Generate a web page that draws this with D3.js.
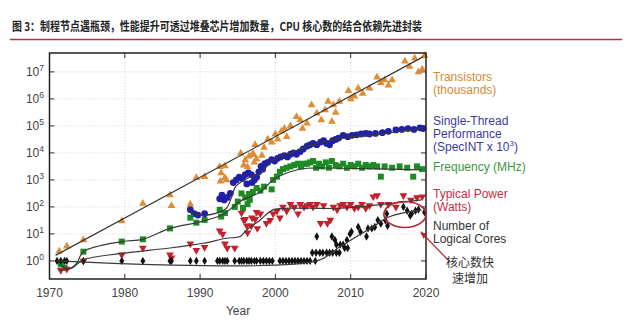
<!DOCTYPE html>
<html>
<head>
<meta charset="utf-8">
<script src="https://cdn.jsdelivr.net/npm/d3@7"></script>
<style>
  html, body { margin: 0; padding: 0; background: #fff; }
  svg { display: block; }
</style>
</head>
<body>
<div id="chart"></div>
<script>
// values (year, value)
const transistors = [[1971.3,2.3],[1972.3,3.5],[1974.5,6],[1979.6,30],[1982.4,134],[1986.0,275],[1986.2,110],[1988.7,125],[1989.5,1200],[1990.6,1300],[1992.6,3100],[1993.3,3300],[1992.8,1800],[1993.3,1200],[1992.7,900],[1993.5,1000],[1995.4,9800],[1996.0,5500],[1996.5,7500],[1997.0,9500],[1995.8,3500],[1996.3,3000],[1997.2,4500],[1997.5,6000],[1997.1,8500],[1997.3,20000],[1998.2,8000],[1998.5,16000],[1999.0,32000],[1999.5,25000],[2000.0,50000],[2000.3,32000],[2000.8,63000],[2001.2,80000],[2001.5,40000],[2002.0,100000],[2002.8,220000],[2003.3,166000],[2003.6,80000],[2004.2,126000],[2004.8,600000],[2005.5,295000],[2006.1,166000],[2006.6,390000],[2007.0,800000],[2007.7,600000],[2007.5,145000],[2008.0,316000],[2008.5,800000],[2009.7,2000000],[2010.0,1000000],[2010.5,1260000],[2011.0,2500000],[2011.6,1600000],[2012.5,2500000],[2013.5,6300000],[2014.0,4000000],[2014.5,5000000],[2015.0,3200000],[2015.5,5000000],[2017.2,25000000],[2017.8,16000000],[2018.5,32000000],[2019.0,10000000],[2019.5,12600000],[2019.8,40000000]];

const performance = [[1988.7,79],[1989.2,56],[1989.7,50],[1990.6,56],[1992.6,200],[1992.9,275],[1993.2,182],[1993.6,224],[1994.0,316],[1994.4,794],[1994.8,1000],[1995.2,1260],[1995.6,1120],[1996.0,1580],[1996.4,1820],[1996.8,1580],[1997.2,1000],[1996.9,794],[1996.2,708],[1997.5,1260],[1997.8,2000],[1998.3,2500],[1998.1,3160],[1998.6,3980],[1999.0,4470],[1999.5,5620],[1999.9,5010],[2000.3,6310],[2000.7,7080],[2001.2,7940],[2001.6,7080],[2002.0,8910],[2002.4,10000],[2002.8,8910],[2003.3,11200],[2003.7,14100],[2004.2,17800],[2004.6,20000],[2005.0,22400],[2005.5,20000],[2006.0,25100],[2006.4,28200],[2006.8,22400],[2007.2,20000],[2007.6,28200],[2008.0,31600],[2008.4,35500],[2009.0,44700],[2009.6,39800],[2010.2,44700],[2010.8,46800],[2011.4,50100],[2012.0,52500],[2012.5,50100],[2013.3,52500],[2014.2,56200],[2015.0,63100],[2016.0,70800],[2016.8,74100],[2017.6,79400],[2018.4,74100],[2019.2,85100],[2019.6,79400]];

const frequency = [[1971.5,0.74],[1972.0,0.56],[1974.5,2.2],[1979.6,5.2],[1982.4,6.3],[1986.0,16],[1988.7,40],[1989.5,26],[1990.6,33],[1992.6,78],[1993.3,59],[1992.8,44],[1994.6,100],[1995.0,158],[1995.5,316],[1996.0,224],[1996.5,302],[1997.0,355],[1997.5,500],[1995.7,91],[1996.3,126],[1996.6,182],[1998.0,400],[1998.5,562],[1999.5,447],[1999.7,1000],[2000.2,1320],[2000.6,2000],[2001.0,2510],[2001.5,2820],[2002.0,3160],[2002.5,3550],[2003.0,3980],[2003.4,3160],[2003.8,3980],[2004.2,3980],[2004.6,4470],[2005.0,5010],[2005.4,2820],[2005.8,3980],[2006.2,3160],[2006.7,4470],[2007.1,2820],[2007.5,5010],[2008.0,3550],[2008.5,3160],[2009.0,3980],[2009.5,2820],[2010.0,3550],[2010.5,3160],[2011.0,3980],[2011.5,2820],[2012.0,3550],[2012.5,3160],[2013.0,3550],[2013.5,3160],[2014.0,1320],[2014.5,3160],[2015.5,2820],[2016.5,3160],[2017.5,2820],[2018.3,1320],[2018.8,3160],[2019.5,2510]];

const power = [[1971.5,0.45],[1972.3,0.5],[1974.5,1],[1979.6,1.7],[1982.4,3],[1986.0,1.7],[1986.2,1.3],[1988.7,4.3],[1989.5,2.5],[1990.6,3.2],[1992.6,13],[1993.0,10],[1993.3,4.3],[1993.6,3],[1994.6,3],[1995.5,60],[1996.0,35],[1996.3,11],[1996.8,20],[1997.3,35],[1997.5,63],[1995.8,33],[1996.2,20],[1996.9,40],[1997.6,16],[1998.0,56],[1998.8,25],[1999.3,32],[1999.7,56],[2000.2,71],[2000.6,40],[2001.0,100],[2001.5,71],[2002.0,126],[2002.5,100],[2003.0,56],[2003.3,126],[2003.8,100],[2004.2,112],[2004.6,126],[2005.0,100],[2005.5,126],[2006.0,25],[2006.4,112],[2006.9,25],[2007.3,33],[2007.7,100],[2008.2,79],[2008.6,112],[2009.0,126],[2009.5,100],[2010.0,126],[2010.5,89],[2011.0,100],[2011.5,126],[2012.0,89],[2012.5,112],[2013.0,240],[2013.5,263],[2014.0,126],[2015.0,126],[2016.0,100],[2017.0,263],[2018.0,182],[2018.8,224],[2019.5,240]];

const cores = [[1971.0,1],[1971.5,1],[1972.0,1],[1972.3,1],[1974.5,1],[1979.6,1],[1982.4,1],[1986.0,1],[1986.2,1],[1988.7,1],[1989.5,1],[1990.6,1],[1992.3,1],[1992.6,1],[1993.0,1],[1993.3,1],[1993.6,1],[1994.6,1],[1995.2,1],[1995.5,1],[1995.8,1],[1996.2,1],[1996.5,1],[1996.8,1],[1997.2,1],[1997.5,1],[1998.0,1],[1998.4,1],[1998.8,1],[1999.2,1],[1999.6,1],[2000.6,1],[2001.0,1],[2001.4,1],[2001.8,1],[2002.2,1],[2002.6,1],[2003.0,1],[2003.4,1],[2003.8,1],[2004.2,1],[2004.6,1],[2005.3,1],[2004.9,2],[2005.4,2],[2005.9,2],[2006.3,2],[2006.8,2],[2007.2,2],[2007.6,2],[2008.1,2],[2008.5,2],[2005.5,8],[2007.5,8],[2007.9,6],[2008.1,4],[2008.6,4],[2009.0,4],[2009.2,3],[2009.5,6],[2009.6,3],[2009.9,10],[2010.1,12],[2011.0,18],[2011.3,12],[2012.1,8],[2012.3,16],[2012.8,16],[2013.2,18],[2013.6,32],[2014.0,24],[2014.6,32],[2014.8,56],[2014.9,20],[2017.0,100],[2017.5,72],[2017.9,48],[2018.1,56],[2018.6,72],[2019.0,80],[2019.8,64]];

// hand drawn trend curves
const transistorTrend = [[1970.8,1.6],[2019.6,36000000]];
const performanceTrend = [[1988.3,78],[1990.0,50],[1992.2,59],[1993.5,89],[1994.2,240],[1994.7,560],[1995.5,870],[1996.8,1320],[1998.0,1780],[1999.7,5500],[2002.0,10000],[2004.2,17000],[2008.6,34700],[2013.0,46800],[2019.4,81000]];
const frequencyTrend = [[1971.3,0.8],[1972.5,0.5],[1973.6,0.8],[1974.5,2.2],[1979.6,5.2],[1982.4,6.3],[1986.0,16],[1990.0,28],[1993.0,52],[1995.3,160],[1998.0,360],[1999.7,1000],[2002.0,2000],[2004.2,2700],[2008.6,2700],[2019.4,2350]];
const powerTrend = [[1971.3,0.45],[1973.0,0.55],[1974.5,1.1],[1979.6,1.9],[1986.0,3],[1990.4,4.5],[1993.5,6.9],[1995.3,8],[1996.2,14],[1998.0,33],[1999.7,78],[2004.2,89],[2008.6,89],[2019.4,182]];
const coresTrend = [[1971.0,1],[2005.5,1],[2008.6,3.4],[2013.0,18.6],[2015.2,44],[2019.4,78]];

const yearTicks = [1970, 1980, 1990, 2000, 2010, 2020];
const decadeTicks = [0, 1, 2, 3, 4, 5, 6, 7];

const legendLines = [
  {color: "#d58a35", lines: ["Transistors", "(thousands)"], y: 81},
  {color: "#3a3a9e", lines: ["Single-Thread", "Performance", "(SpecINT x 10"], y: 125},
  {color: "#3d983d", lines: ["Frequency (MHz)"], y: 171},
  {color: "#c22f3f", lines: ["Typical Power", "(Watts)"], y: 198},
  {color: "#333333", lines: ["Number of", "Logical Cores"], y: 230}
];

const titleText = "图 3：制程节点遇瓶颈，性能提升可透过堆叠芯片增加数量，CPU 核心数的结合依赖先进封装";
const noteLines = ["核心数快", "速增加"];

const W = 640, H = 328;
const plotLeft = 49.5, plotRight = 426, plotTop = 53, plotBottom = 279;

const svg = d3.select("#chart").append("svg")
  .attr("width", W).attr("height", H)
  .style("font-family", "'Liberation Sans', Arial, sans-serif");

const x = d3.scaleLinear().domain([1970, 2020]).range([plotLeft, plotRight]);
const y = d3.scaleLog().domain([Math.pow(10, -0.67), Math.pow(10, 7.7)]).range([plotBottom, plotTop]);

// title + red rule
svg.append("text")
  .attr("x", 12).attr("y", 31)
  .attr("textLength", 410).attr("lengthAdjust", "spacingAndGlyphs")
  .style("font-family", "'Noto Sans CJK SC', sans-serif")
  .style("font-size", "12px").style("font-weight", 700)
  .attr("fill", "#222")
  .text(titleText);
svg.append("line")
  .attr("x1", 10).attr("x2", 622).attr("y1", 39.5).attr("y2", 39.5)
  .attr("stroke", "#a8373a").attr("stroke-width", 1.4);

// grid
const grid = svg.append("g").attr("stroke", "#c8c8c8").attr("stroke-width", 0.8).attr("stroke-dasharray", "1,2");
grid.selectAll(".hg").data(decadeTicks).enter().append("line")
  .attr("x1", plotLeft).attr("x2", plotRight)
  .attr("y1", d => y(Math.pow(10, d))).attr("y2", d => y(Math.pow(10, d)));
grid.selectAll(".vg").data(yearTicks.slice(1, -1)).enter().append("line")
  .attr("y1", plotTop).attr("y2", plotBottom)
  .attr("x1", d => x(d)).attr("x2", d => x(d));

// ticks on all four sides
const ticks = svg.append("g").attr("stroke", "#333").attr("stroke-width", 1);
decadeTicks.forEach(function (d) {
  const yy = y(Math.pow(10, d));
  ticks.append("line").attr("x1", plotLeft).attr("x2", plotLeft + 5).attr("y1", yy).attr("y2", yy);
  ticks.append("line").attr("x1", plotRight).attr("x2", plotRight - 5).attr("y1", yy).attr("y2", yy);
});
yearTicks.forEach(function (d) {
  ticks.append("line").attr("x1", x(d)).attr("x2", x(d)).attr("y1", plotBottom).attr("y2", plotBottom - 5);
  ticks.append("line").attr("x1", x(d)).attr("x2", x(d)).attr("y1", plotTop).attr("y2", plotTop + 5);
});

// y labels 10^n
const yl = svg.selectAll(".ylab").data(decadeTicks).enter().append("text")
  .attr("x", 44).attr("y", d => y(Math.pow(10, d)) + 4)
  .attr("text-anchor", "end").attr("fill", "#444").style("font-size", "12px");
yl.append("tspan").text("10");
yl.append("tspan").attr("dy", -5).style("font-size", "8.5px").text(d => d);

// x labels
svg.selectAll(".xlab").data(yearTicks).enter().append("text")
  .attr("x", d => x(d)).attr("y", 297)
  .attr("text-anchor", "middle").attr("fill", "#444").style("font-size", "12px")
  .text(d => d);
svg.append("text").attr("x", 238).attr("y", 315).attr("text-anchor", "middle")
  .attr("fill", "#444").style("font-size", "12px").text("Year");

// markers
const plot = svg.append("g");
function drawMarkers(data, type, size, color, rotate) {
  const sym = d3.symbol().type(type).size(size);
  plot.append("g").selectAll("path").data(data).enter().append("path")
    .attr("d", sym)
    .attr("transform", d => "translate(" + x(d[0]) + "," + y(d[1]) + ")" + (rotate ? " rotate(180)" : ""))
    .attr("fill", color);
}
drawMarkers(transistors, d3.symbolTriangle, 26, "#e08c34", false);
drawMarkers(performance, d3.symbolCircle, 36, "#1f1fa8", false);
drawMarkers(frequency, d3.symbolSquare, 36, "#1e8c24", false);
drawMarkers(power, d3.symbolTriangle, 26, "#c4202c", true);
drawMarkers(cores, d3.symbolDiamond, 20, "#111", false);

// trend curves
const trendLine = d3.line().x(d => x(d[0])).y(d => y(d[1])).curve(d3.curveCatmullRom.alpha(0.5));
[transistorTrend, performanceTrend, frequencyTrend, powerTrend, coresTrend].forEach(function (t) {
  plot.append("path").datum(t).attr("d", trendLine)
    .attr("fill", "none").attr("stroke", "#3a3a3a").attr("stroke-width", 1.2);
});

// frame
svg.append("rect").attr("x", plotLeft).attr("y", plotTop)
  .attr("width", plotRight - plotLeft).attr("height", plotBottom - plotTop)
  .attr("fill", "none").attr("stroke", "#222").attr("stroke-width", 1.5);

// legend text
legendLines.forEach(function (item) {
  item.lines.forEach(function (line, i) {
    const t = svg.append("text").attr("x", 433).attr("y", item.y + i * 13.2)
      .attr("fill", item.color).style("font-size", "12px").text(line);
    if (line.indexOf("SpecINT") >= 0) {
      t.append("tspan").attr("dy", -5).style("font-size", "8px").text("3");
      t.append("tspan").attr("dy", 5).text(")");
    }
  });
});

// annotation: ellipse, arrow and note
const ann = svg.append("g");
ann.append("ellipse")
  .attr("cx", x(2017.2)).attr("cy", y(Math.pow(10, 1.72)))
  .attr("rx", 21).attr("ry", 13)
  .attr("fill", "none").attr("stroke", "#b3262c").attr("stroke-width", 1.6);
svg.append("defs").append("marker")
  .attr("id", "arr").attr("viewBox", "0 0 10 10").attr("refX", 9).attr("refY", 5)
  .attr("markerWidth", 6).attr("markerHeight", 6).attr("orient", "auto")
  .append("path").attr("d", "M0,1 L10,5 L0,9 Z").attr("fill", "#b3262c");
ann.append("line")
  .attr("x1", 448).attr("y1", 260).attr("x2", 421).attr("y2", 232)
  .attr("stroke", "#b3262c").attr("stroke-width", 1.2).attr("marker-end", "url(#arr)");
noteLines.forEach(function (s, i) {
  ann.append("text").attr("x", 470).attr("y", 267 + i * 16)
    .attr("text-anchor", "middle").attr("fill", "#333")
    .style("font-family", "'Noto Sans CJK SC', sans-serif").style("font-size", "12px")
    .text(s);
});
</script>
</body>
</html>
